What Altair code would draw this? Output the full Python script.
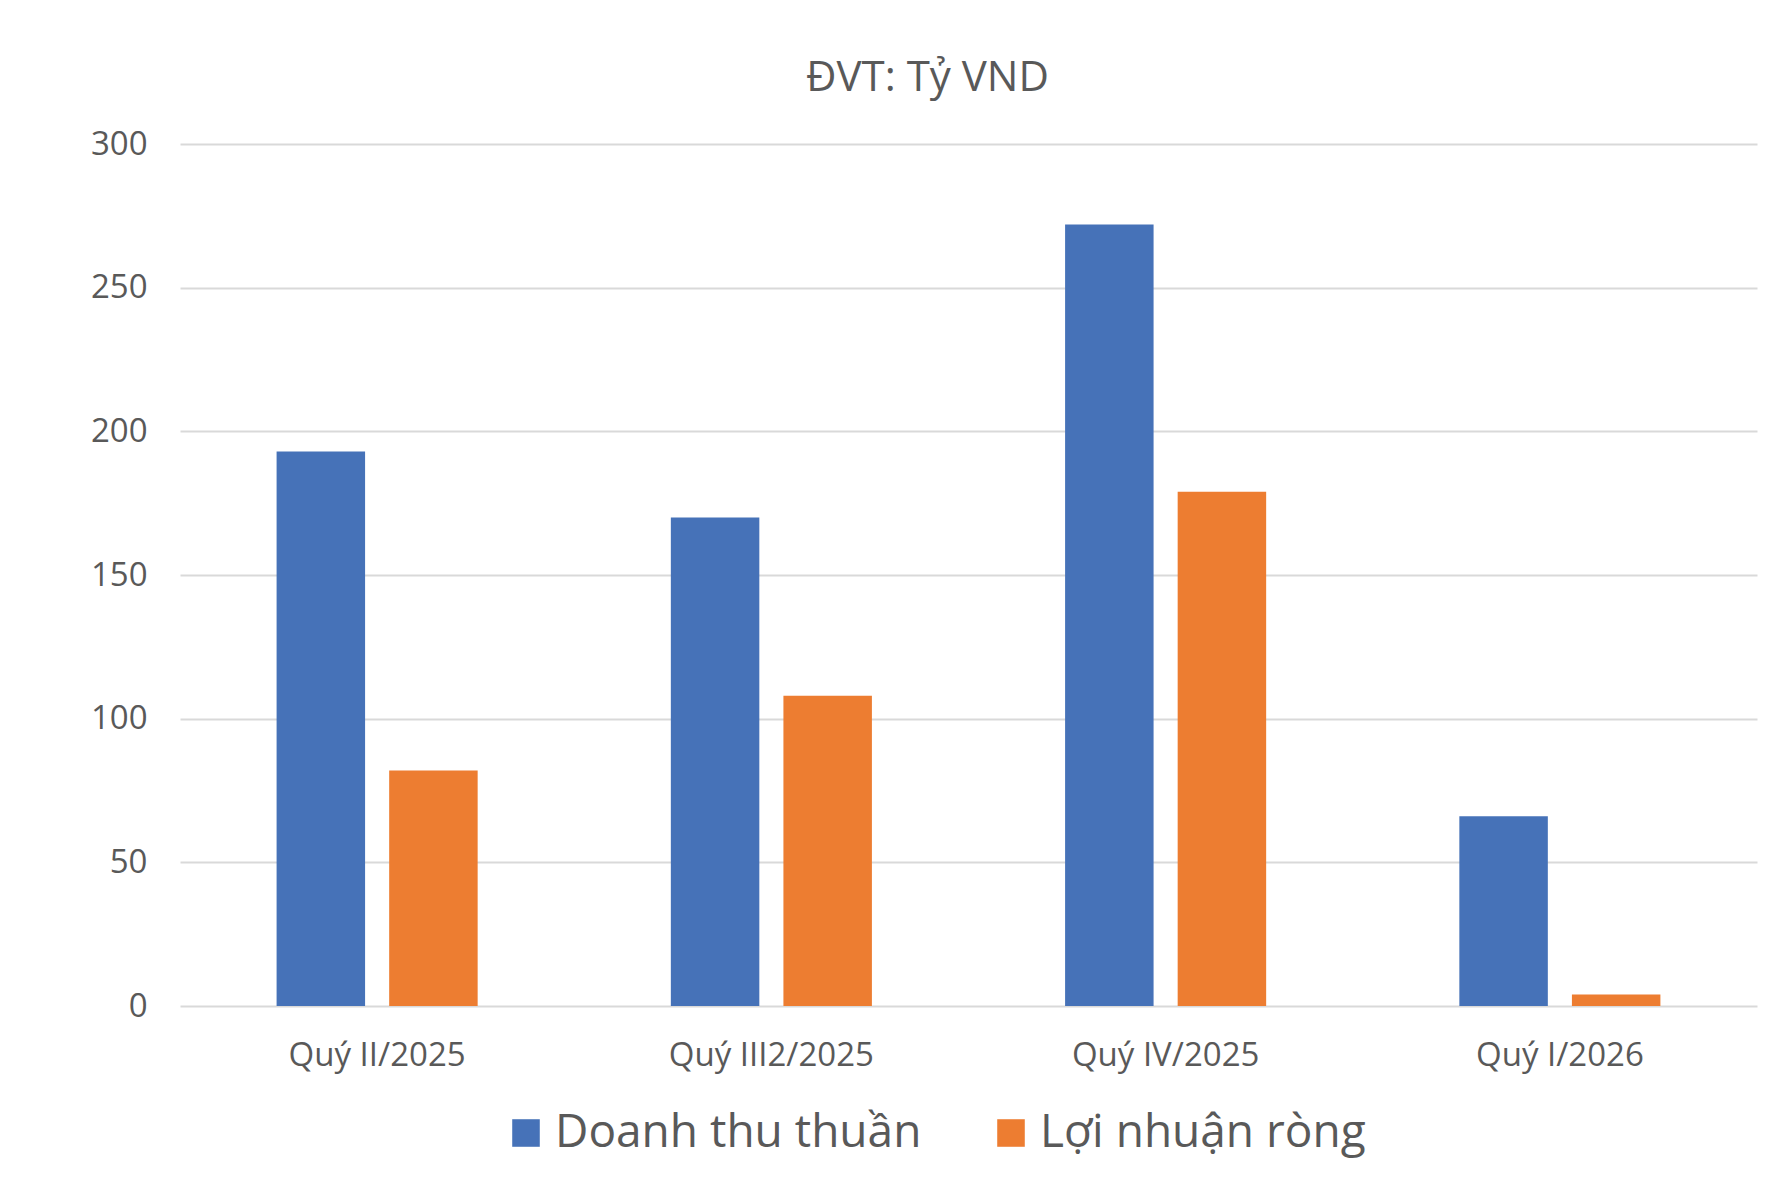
import altair as alt
import pandas as pd

# Quarterly figures, billion VND
quarters = ["Quý II/2025", "Quý III2/2025", "Quý IV/2025", "Quý I/2026"]
doanh_thu = [193, 170, 272, 66]
loi_nhuan = [82, 108, 179, 4]
series = ["Doanh thu thuần", "Lợi nhuận ròng"]
colors = ["#4672B8", "#ED7D31"]

rows = []
for q, a, b in zip(quarters, doanh_thu, loi_nhuan):
    rows.append({"quy": q, "chi_tieu": series[0], "gia_tri": a})
    rows.append({"quy": q, "chi_tieu": series[1], "gia_tri": b})
df = pd.DataFrame(rows)

FONT = "Open Sans"
TEXT = "#595959"

chart = (
    alt.Chart(df)
    .mark_bar()
    .encode(
        x=alt.X(
            "quy:N",
            sort=quarters,
            title=None,
            scale=alt.Scale(paddingInner=0.49, paddingOuter=0.245),
            axis=alt.Axis(
                labelAngle=0,
                labelFontSize=33,
                labelColor=TEXT,
                labelFont=FONT,
                labelPadding=33,
                ticks=False,
                domain=False,
                grid=False,
                labelLimit=400,
            ),
        ),
        xOffset=alt.XOffset(
            "chi_tieu:N",
            sort=series,
            scale=alt.Scale(paddingInner=0.214, paddingOuter=0),
        ),
        y=alt.Y(
            "gia_tri:Q",
            title=None,
            scale=alt.Scale(domain=[0, 300], nice=False),
            axis=alt.Axis(
                values=[0, 50, 100, 150, 200, 250, 300],
                labelFontSize=33,
                labelColor=TEXT,
                labelFont=FONT,
                labelPadding=33,
                ticks=False,
                domain=False,
                gridColor="#D9D9D9",
                gridWidth=2,
            ),
        ),
        color=alt.Color(
            "chi_tieu:N",
            sort=series,
            scale=alt.Scale(domain=series, range=colors),
            legend=alt.Legend(
                title=None,
                orient="none",
                direction="horizontal",
                legendX=323,
                legendY=966,
                symbolType="square",
                symbolSize=760,
                symbolStrokeWidth=0,
                labelFontSize=46,
                labelFont=FONT,
                labelColor=TEXT,
                labelOffset=6,
                columnPadding=66,
                labelLimit=600,
            ),
        ),
    )
    .properties(
        width=1577,
        height=862,
        background="white",
        title=alt.TitleParams(
            "ĐVT: Tỷ VND",
            fontSize=42,
            font=FONT,
            color=TEXT,
            fontWeight="normal",
            anchor="middle",
            offset=28,
            dx=-41,
        ),
        autosize=alt.AutoSizeParams(type="none"),
        padding={"left": 180, "top": 144, "right": 15, "bottom": 171},
    )
    .configure_view(stroke=None, strokeWidth=0)
)

chart.save("out.html", embed_options={"renderer": "svg", "actions": False})
